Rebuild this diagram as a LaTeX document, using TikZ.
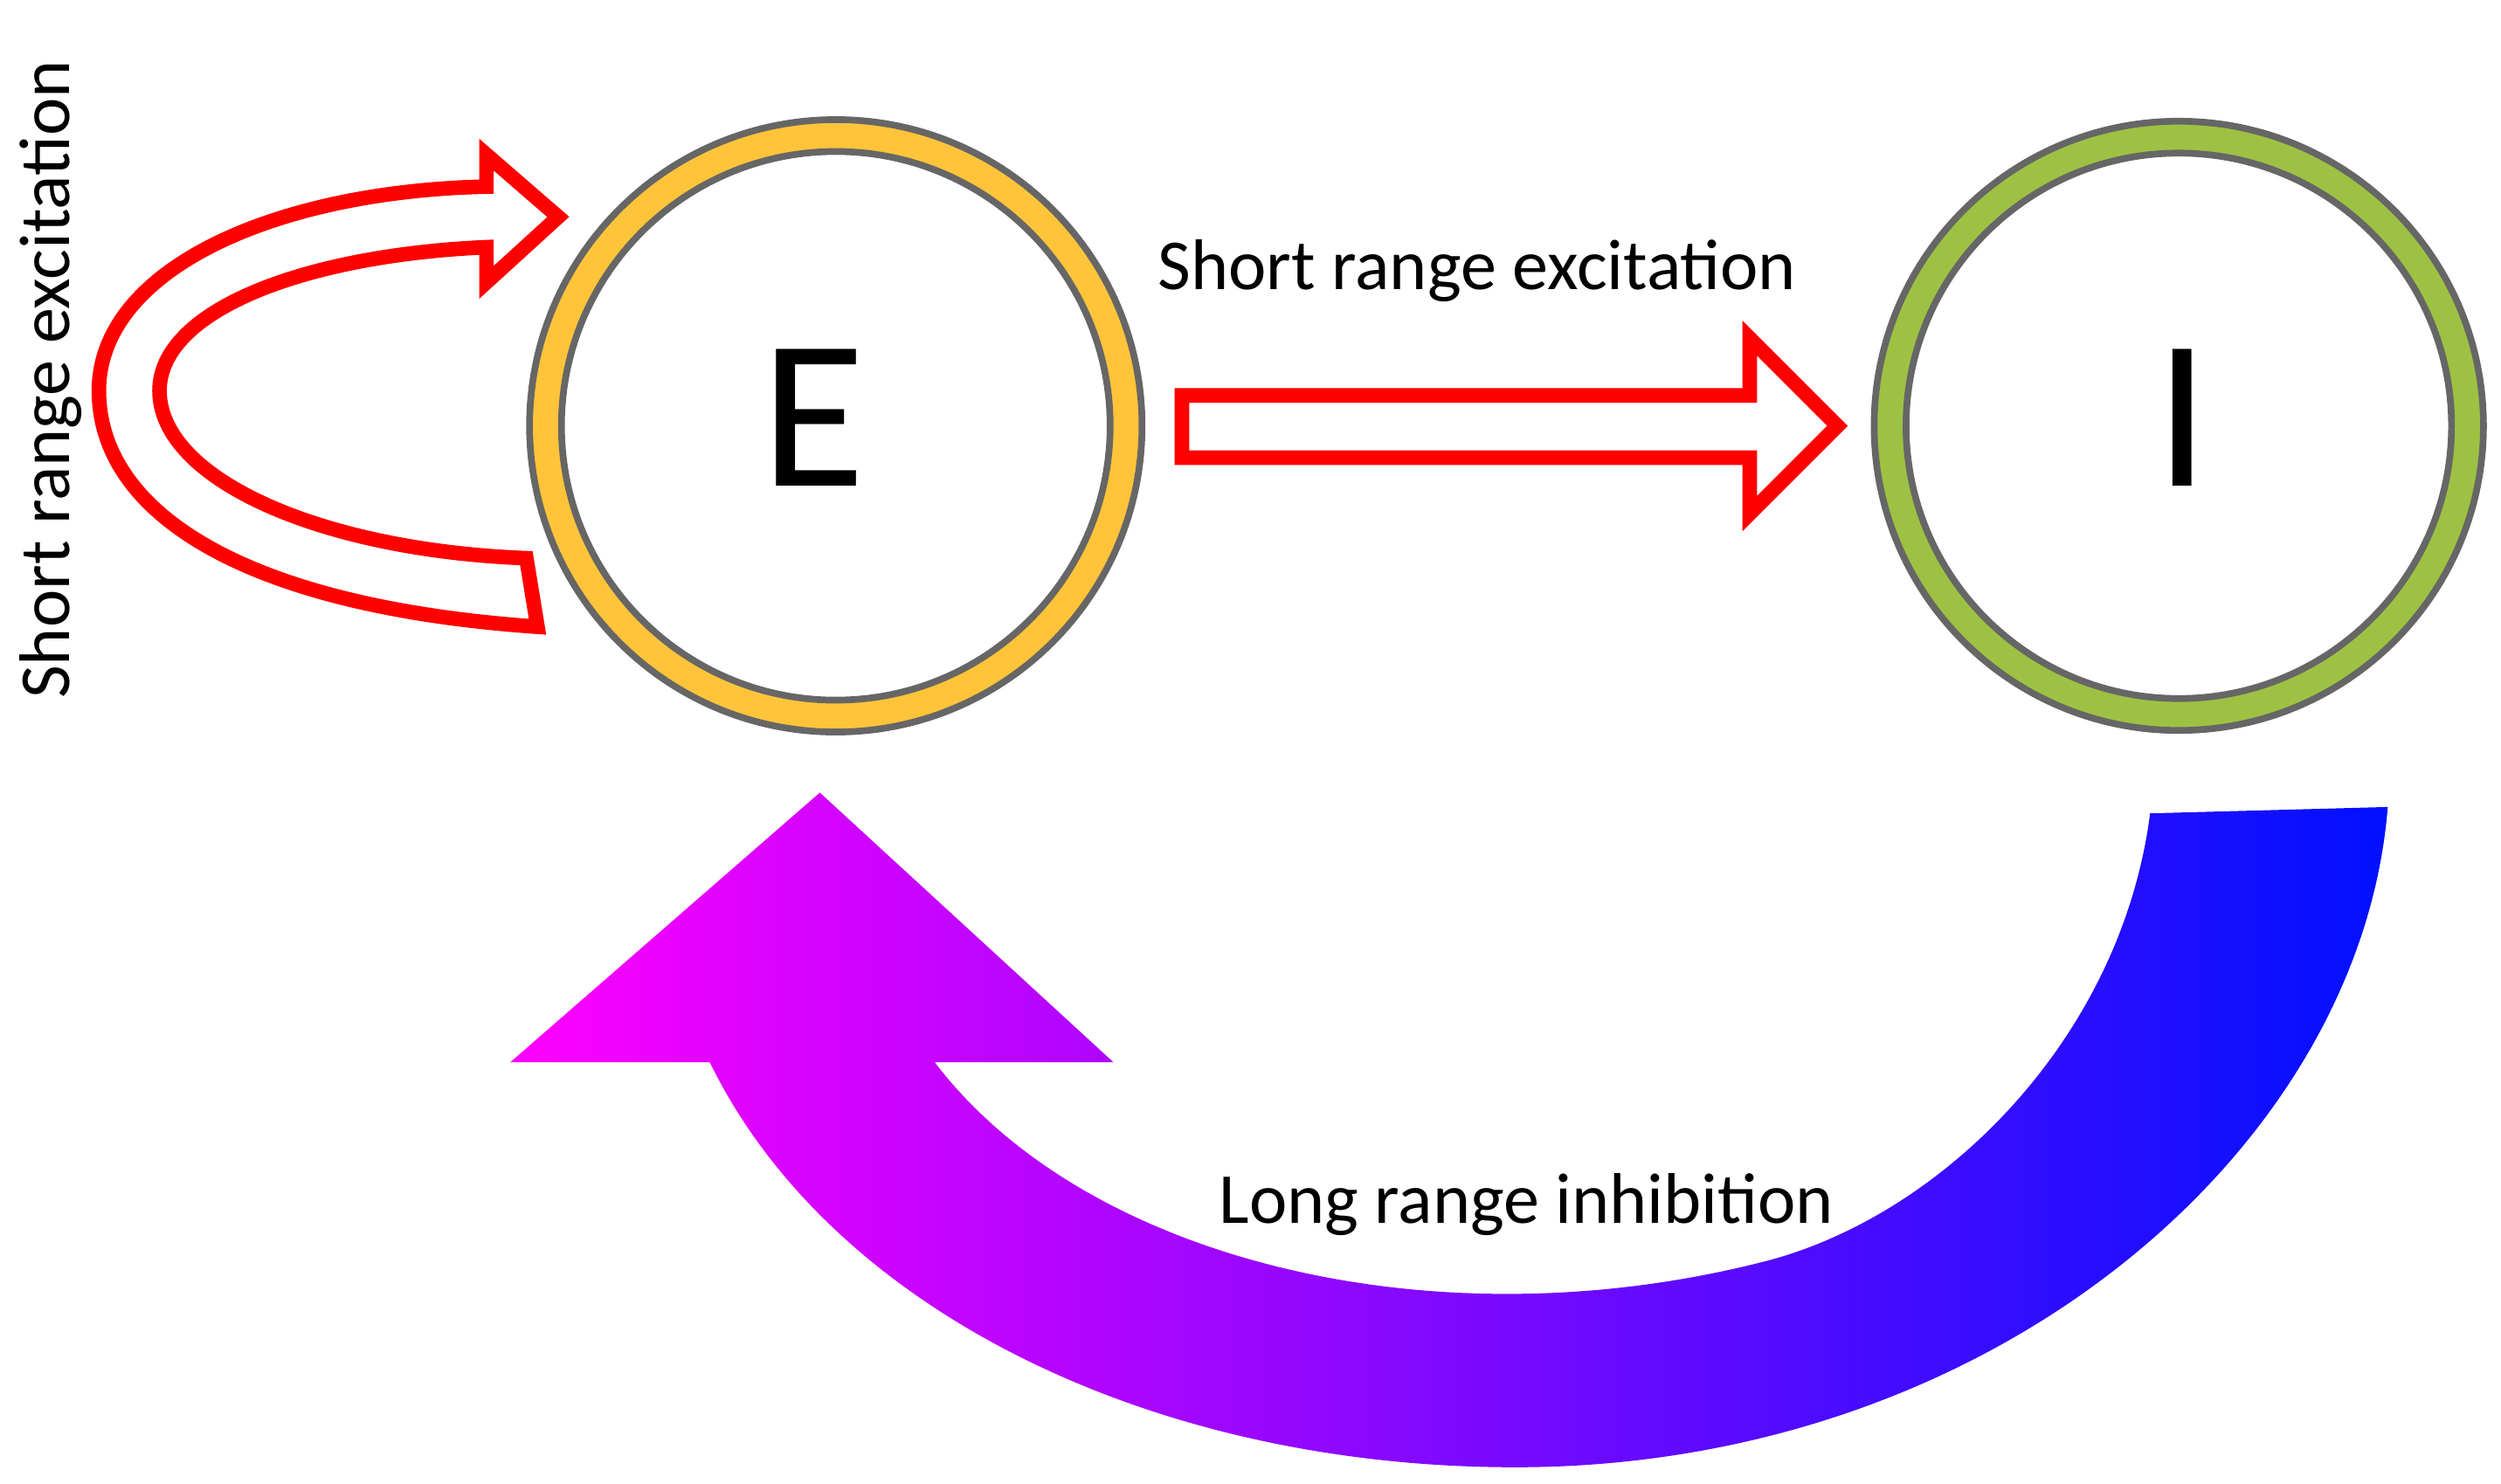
\documentclass[tikz,border=0pt]{standalone}
\usepackage{fontspec}
\setmainfont{Carlito}
\begin{document}
\begin{tikzpicture}[x=0.01cm,y=-0.01cm,
  ring/.style={draw=gray!80!black,line width=1.2pt,even odd rule},
  redarrow/.style={draw=red,line width=2.6pt,fill=white,line join=miter},
  lbl/.style={font=\fontsize{12.8pt}{15pt}\selectfont},
  big/.style={font=\fontsize{38pt}{44pt}\selectfont}]
\useasboundingbox (0,0) rectangle (1568,930);
% E ring
\path[ring,fill={rgb,255:red,255;green,196;blue,58}] (524,267) circle (192) (524,267) circle (172);
\node[big] (E) at (510,262) {E};
% I ring
\path[ring,fill={rgb,255:red,157;green,194;blue,67}] (1366,267) circle (191) (1366,267) circle (171);
\node[big] (I) at (1368,262) {I};
% straight arrow
\draw[redarrow] (741,248) -- (1097,248) -- (1097,212) -- (1152,267) -- (1097,322) -- (1097,287) -- (741,287) -- cycle;
% self loop arrow
\draw[redarrow] (337,393) .. controls (150,380) and (62,320) .. (62,245)
  .. controls (62,170) and (170,120) .. (305,117) -- (305,97) -- (350,136) -- (305,177) -- (305,155)
  .. controls (190,160) and (100,195) .. (100,245)
  .. controls (100,300) and (200,345) .. (330,350) -- cycle;
% inhibition arrow
\shade[left color={rgb,255:red,255;green,0;blue,255},right color={rgb,255:red,0;green,16;blue,255}]
  (320,666) -- (514,497) -- (698,666) -- (586,666)
  .. controls (680,790) and (900,845) .. (1110,790)
  .. controls (1220,760) and (1330,650) .. (1348,510)
  -- (1497,506)
  .. controls (1480,720) and (1250,920) .. (950,920)
  .. controls (720,920) and (520,820) .. (445,666) -- cycle;
% labels
\node[lbl] (t1) at (926,170) {Short range excitation};
\node[lbl,rotate=90] (t2) at (32,238) {Short range excitation};
\node[lbl] (t3) at (957,755) {Long range inhibition};
\end{tikzpicture}
\end{document}
